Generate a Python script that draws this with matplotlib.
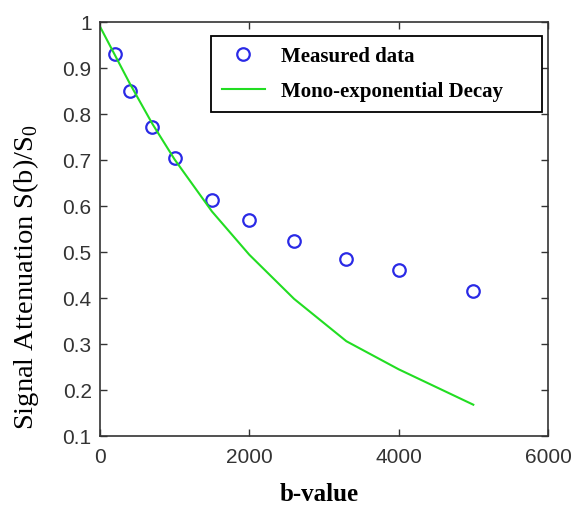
import numpy as np
import matplotlib
matplotlib.use("Agg")
import matplotlib.pyplot as plt

plt.rcParams['mathtext.fontset'] = 'custom'
plt.rcParams['mathtext.rm'] = 'Liberation Serif'

# measured b-values and signal attenuation
b_meas = [200, 400, 700, 1000, 1500, 2000, 2600, 3300, 4000, 5000]
s_meas = [0.930, 0.850, 0.772, 0.704, 0.613, 0.570, 0.524, 0.485, 0.461, 0.415]

b_fit = [0, 200, 400, 700, 1000, 1500, 2000, 2600, 3300, 4000, 5000]
s_fit = [0.990, 0.928, 0.866, 0.779, 0.701, 0.588, 0.494, 0.398, 0.306, 0.245, 0.168]

xticks = [0, 2000, 4000, 6000]
yticks = [0.1, 0.2, 0.3, 0.4, 0.5, 0.6, 0.7, 0.8, 0.9, 1.0]
ytick_labels = ["0.1", "0.2", "0.3", "0.4", "0.5", "0.6", "0.7", "0.8", "0.9", "1"]

fig = plt.figure(figsize=(5.73, 5.06), dpi=100)
ax = fig.add_axes([0.1745, 0.1364, 0.7818, 0.8182])

ax.plot(b_meas, s_meas, 'o', mfc='none', mec='#2a2ae6', mew=1.6, ms=9,
        label='Measured data')
ax.plot(b_fit, s_fit, '-', color='#22dd22', lw=1.5, label='Mono-exponential Decay')

ax.set_xlim(0, 6000)
ax.set_ylim(0.1, 1.0)
ax.set_xticks(xticks)
ax.set_yticks(yticks)
ax.set_yticklabels(ytick_labels)

ax.tick_params(direction='in', top=True, right=True, length=5, width=1,
               color='#333333', labelcolor='#333333', labelsize=15)
for lab in ax.get_xticklabels() + ax.get_yticklabels():
    lab.set_fontfamily('Liberation Sans')
ax.tick_params(axis='x', pad=8)
ax.tick_params(axis='y', pad=6)
for sp in ax.spines.values():
    sp.set_color('#333333')
    sp.set_linewidth(1.2)

ax.set_xlabel('b-value', family='Liberation Serif', fontweight='bold', fontsize=18,
              labelpad=10)
ax.xaxis.set_label_coords(0.49, -0.11)
ax.set_ylabel('Signal Attenuation S(b)/S$_0$', family='Liberation Serif',
              fontsize=20.5)
ax.yaxis.set_label_coords(-0.132, 0.386)

leg = ax.legend(loc='upper left', bbox_to_anchor=(0.248, 0.783, 0.739, 0.183),
                mode='expand', fancybox=False, edgecolor='black', framealpha=1,
                prop={'family': 'Liberation Serif', 'weight': 'bold', 'size': 15},
                handlelength=2.1, borderpad=0.5, labelspacing=0.72,
                handletextpad=0.75, borderaxespad=0)
leg.get_frame().set_linewidth(1.3)

fig.savefig('out.png', dpi=100)
